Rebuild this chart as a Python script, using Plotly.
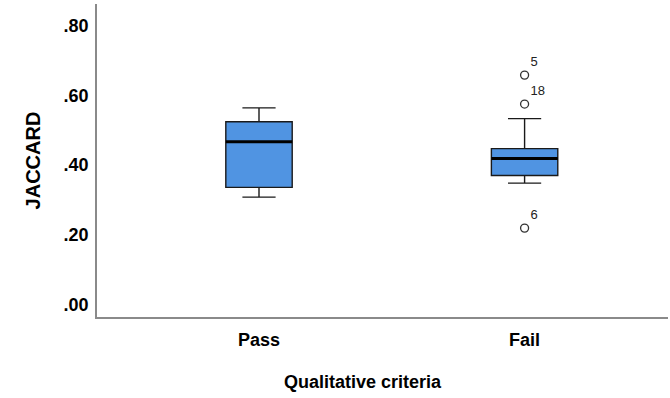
import plotly.graph_objects as go

categories = ["Pass", "Fail"]
q1 = [0.336, 0.370]
median = [0.467, 0.419]
q3 = [0.524, 0.447]
lower_whisker = [0.308, 0.348]
upper_whisker = [0.564, 0.533]

outlier_cat = ["Fail", "Fail", "Fail"]
outlier_val = [0.658, 0.575, 0.219]
outlier_lbl = ["5", "18", "6"]

y_ticks = [0.0, 0.2, 0.4, 0.6, 0.8]
y_ticktext = [".00", ".20", ".40", ".60", ".80"]

pos = list(range(len(categories)))
cat_pos = {c: i for i, c in enumerate(categories)}
box_w = 0.25
fill = "#5094E2"
font = "Liberation Sans, Arial, sans-serif"

fig = go.Figure()
fig.add_trace(go.Box(
    x=pos, q1=q1, median=median, q3=q3,
    lowerfence=lower_whisker, upperfence=upper_whisker,
    width=box_w, whiskerwidth=0.5,
    fillcolor=fill, line=dict(color="#1a1a1a", width=1.4),
    boxpoints=False, showlegend=False, hoverinfo="skip",
))
# thick median lines
for i, m in zip(pos, median):
    fig.add_trace(go.Scatter(
        x=[i - box_w / 2, i + box_w / 2], y=[m, m], mode="lines",
        line=dict(color="black", width=3), showlegend=False, hoverinfo="skip",
    ))
# outliers
fig.add_trace(go.Scatter(
    x=[cat_pos[c] for c in outlier_cat], y=outlier_val,
    mode="markers+text", text=outlier_lbl, textposition="top right",
    textfont=dict(family=font, size=13, color="#222"),
    marker=dict(symbol="circle-open", size=8, color="#333", line=dict(width=1.3)),
    showlegend=False, hoverinfo="skip",
))

tick_font = dict(family=font, size=18, color="black", weight="bold")
fig.update_layout(
    width=670, height=398,
    margin=dict(l=97, r=2, t=4, b=81),
    plot_bgcolor="white", paper_bgcolor="white",
    font=dict(family=font, size=18, color="black"),
    xaxis=dict(
        range=[-0.61, 1.54], tickvals=pos, ticktext=categories,
        showgrid=False, zeroline=False, showline=True, linecolor="#8a8a8a",
        linewidth=1.5, ticks="", tickfont=tick_font, ticklabelstandoff=6,
    ),
    yaxis=dict(
        range=[-0.036, 0.862], tickvals=y_ticks, ticktext=y_ticktext,
        showgrid=False, zeroline=False, showline=True, linecolor="#8a8a8a",
        linewidth=1.5, ticks="", tickfont=tick_font, ticklabelstandoff=3,
        title=dict(text="JACCARD", font=dict(family=font, size=20, color="black", weight="bold"), standoff=18),
    ),
    annotations=[dict(
        text="Qualitative criteria", xref="paper", yref="paper",
        x=(363 - 97) / (670 - 97 - 2), y=-(382 - 317) / 313,
        xanchor="center", yanchor="middle", showarrow=False,
        font=dict(family=font, size=18, color="black", weight="bold"),
    )],
)
fig.write_html("out.html", config={"displayModeBar": False},
               post_script="document.body.style.margin='0';document.body.style.padding='0';")
